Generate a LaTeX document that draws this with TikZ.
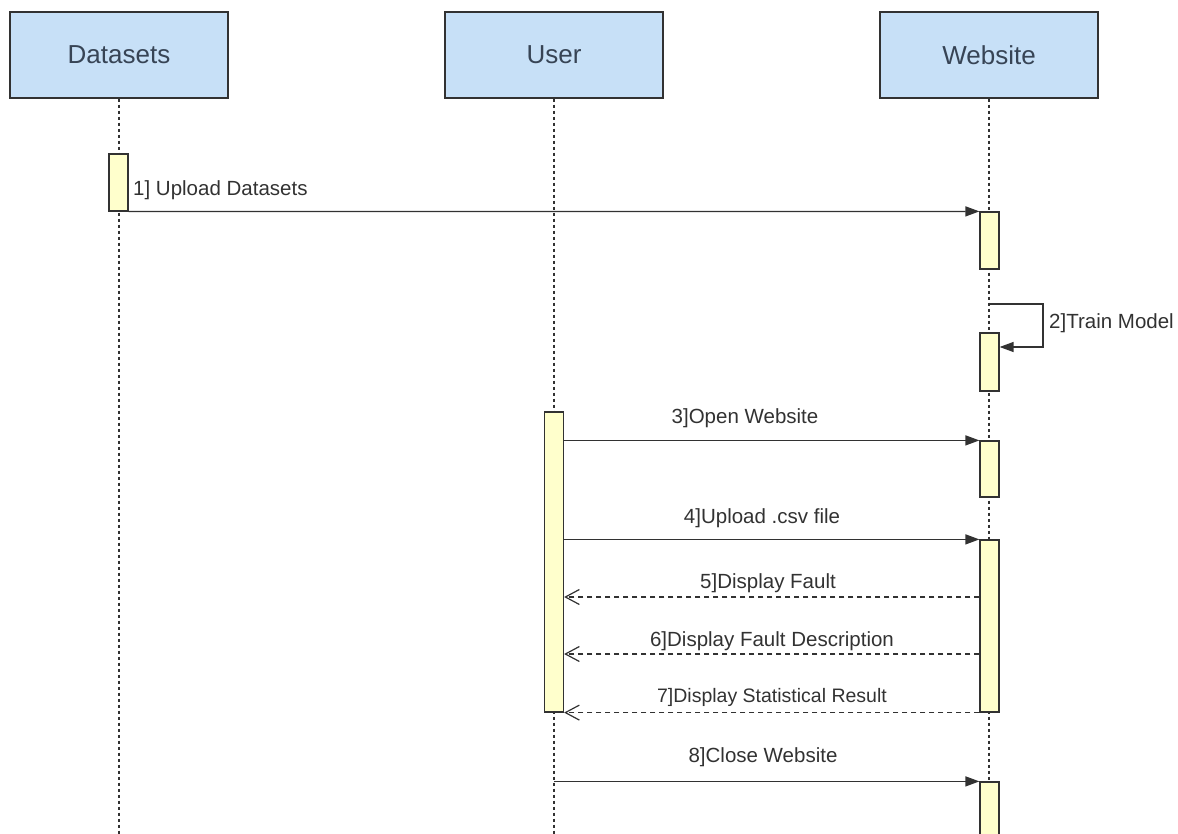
\documentclass[tikz,border=0pt]{standalone}
\usepackage{fontspec}
\setmainfont{Liberation Sans}
\usetikzlibrary{arrows.meta}
\definecolor{boxblue}{RGB}{199,224,247}
\definecolor{actyellow}{RGB}{255,255,204}
\definecolor{inkgray}{RGB}{50,50,50}
\definecolor{namegray}{RGB}{55,68,85}

\begin{document}
\begin{tikzpicture}[x=1pt,y=-1pt,
  actor/.style={draw=inkgray,line width=1.2pt,fill=boxblue,minimum width=218pt,
    minimum height=86pt,inner sep=0pt,text=namegray,font=\fontsize{26}{30}\selectfont},
  act/.style={draw=inkgray,line width=1.2pt,fill=actyellow,minimum width=19pt,inner sep=0pt},
  lifeline/.style={inkgray,line width=1.2pt,dash pattern=on 3pt off 3pt},
  call/.style={inkgray,line width=1.3pt,-{Triangle[length=14pt,width=10pt]}},
  reply/.style={inkgray,line width=1.2pt,dash pattern=on 5pt off 4pt,
    -{Straight Barb[length=14pt,width=15pt,line width=1.2pt]}},
  msg/.style={text=inkgray,inner sep=0pt,font=\fontsize{20.5}{24}\selectfont}]
\useasboundingbox (0,0) rectangle (1178,834);

\node[actor] (datasets) at (119,55) {Datasets};
\node[actor] (user)     at (554,55) {User};
\node[actor] (website)  at (989,55) {Website};

\draw[lifeline] (datasets.south) -- (datasets.south |- 0,834);
\draw[lifeline] (user.south) -- (user.south |- 0,834);
\draw[lifeline] (website.south) -- (website.south |- 0,834);

\node[act,minimum height=57pt]  (d1) at (118.5,182.5) {};
\node[act,minimum height=57pt]  (w1) at (989.5,240.5) {};
\node[act,minimum height=58pt]  (w2) at (989.5,362) {};
\node[act,minimum height=300pt] (u1) at (554,562) {};
\node[act,minimum height=56pt]  (w3) at (989.5,469) {};
\node[act,minimum height=172pt] (w4) at (989.5,626) {};
\node[act,minimum height=60pt]  (w5) at (989.5,812) {};

\coordinate (loop) at (989,304);

\draw[call] (d1.south east) -- (w1.north west);
\draw[call] (loop) -- (1043,304) -- (1043,347) -- (w2.east |- 0,347);
\draw[call] (u1.east |- w3.north) -- (w3.north west);
\draw[call] (u1.east |- w4.north) -- (w4.north west);
\draw[reply] (w4.west |- 0,597) -- (u1.east |- 0,597);
\draw[reply] (w4.west |- 0,654) -- (u1.east |- 0,654);
\draw[reply] (w4.south west) -- (u1.south east);
\draw[call] (u1.south |- w5.north) -- (w5.north west);

\node[msg,anchor=west] (m1) at (133,190) {1] Upload Datasets};
\node[msg,anchor=west] (m2) at (1049,323) {2]Train Model};
\node[msg] (m3) at (745,418) {3]Open Website};
\node[msg] (m4) at (762,518) {4]Upload .csv file};
\node[msg] (m5) at (768,583) {5]Display Fault};
\node[msg] (m6) at (772,641) {6]Display Fault Description};
\node[msg,font=\fontsize{19.5}{23}\selectfont] (m7) at (772,697) {7]Display Statistical Result};
\node[msg] (m8) at (763,757) {8]Close Website};

\end{tikzpicture}
\end{document}
